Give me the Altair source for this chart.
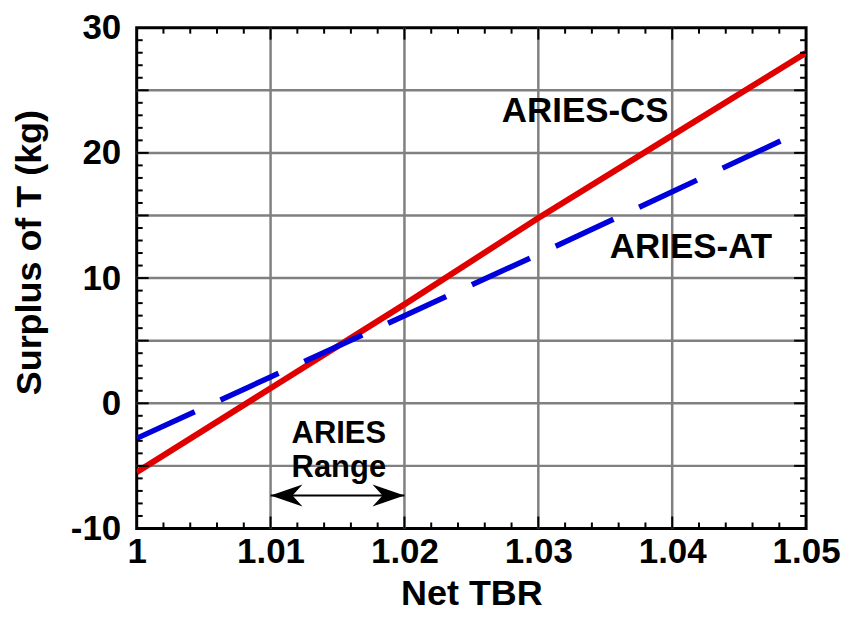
import altair as alt
import pandas as pd

# ---- data ----
tbr = [1.00, 1.01, 1.02, 1.03, 1.04, 1.05]
cs_surplus = [-5.5, 1.2, 7.9, 14.8, 21.4, 28.0]
at_surplus = [-2.8, 2.1, 7.0, 11.9, 16.9, 21.9]

x_labels = [1.00, 1.01, 1.02, 1.03, 1.04, 1.05]
y_labels = [-10, 0, 10, 20, 30]
x_grid = [1.01, 1.02, 1.03, 1.04]
y_grid = [-5, 0, 5, 10, 15, 20, 25]
x_minor = [1.002, 1.004, 1.006, 1.008, 1.012, 1.014, 1.016, 1.018,
           1.022, 1.024, 1.026, 1.028, 1.032, 1.034, 1.036, 1.038,
           1.042, 1.044, 1.046, 1.048]
y_minor = [-9, -8, -7, -6, -4, -3, -2, -1, 1, 2, 3, 4, 6, 7, 8, 9,
           11, 12, 13, 14, 16, 17, 18, 19, 21, 22, 23, 24, 26, 27, 28, 29]

label_text = ["ARIES-CS", "ARIES-AT"]
label_x = [1.0335, 1.0414]
label_y = [22.43, 11.59]
range_text = ["ARIES", "Range"]
range_x = [1.0151, 1.0151]
range_y = [-3.15, -5.86]
range_from, range_to, range_level = 1.01, 1.02, -7.37

X_MIN, X_MAX, Y_MIN, Y_MAX = 1.0, 1.05, -10, 30
W, H = 671, 502

FONT = "Liberation Sans"
xscale = alt.Scale(domain=[X_MIN, X_MAX], nice=False, zero=False)
yscale = alt.Scale(domain=[Y_MIN, Y_MAX], nice=False, zero=False)

xaxis = alt.Axis(values=x_labels, format=".2~f", grid=False, ticks=False, tickSize=0,
                 domain=False, labelFont=FONT, labelFontWeight="bold", labelFontSize=35,
                 labelColor="black", labelPadding=6, labelFlush=False, labelOverlap=False,
                 title="Net TBR", titleFont=FONT, titleFontWeight="bold", titleFontSize=36,
                 titleColor="black", titleBaseline="alphabetic", titleY=76)
yaxis = alt.Axis(values=y_labels, grid=False, ticks=False, tickSize=0,
                 labelExpr="datum.value < 0 ? '-' + format(-datum.value, 'd') : format(datum.value, 'd')",
                 domain=False, labelFont=FONT, labelFontWeight="bold", labelFontSize=35,
                 labelColor="black", labelPadding=16, labelFlush=False, labelOverlap=False,
                 title="Surplus of T (kg)", titleFont=FONT, titleFontWeight="bold",
                 titleFontSize=36, titleColor="black", titleBaseline="alphabetic",
                 titleAngle=-90, titleX=-96, titleY=225, titleAlign="center")


def X(f):
    return alt.X(f, type="quantitative", scale=xscale, axis=xaxis)


def Y(f):
    return alt.Y(f, type="quantitative", scale=yscale, axis=yaxis)


# tick lengths in data units (6 px minor, 12 px major)
ty_min = 6 * (Y_MAX - Y_MIN) / H
tx_min = 6 * (X_MAX - X_MIN) / W

grid_v = alt.Chart(pd.DataFrame({"x": x_grid})).mark_rule(
    color="#808080", strokeWidth=2.5).encode(x=X("x"))
grid_h = alt.Chart(pd.DataFrame({"y": y_grid})).mark_rule(
    color="#808080", strokeWidth=2.5).encode(y=Y("y"))

rows_x = []
for v in x_minor:
    rows_x.append({"x": v, "y0": Y_MIN, "y1": Y_MIN + ty_min})
    rows_x.append({"x": v, "y0": Y_MAX, "y1": Y_MAX - ty_min})
for v in x_grid:
    rows_x.append({"x": v, "y0": Y_MIN, "y1": Y_MIN + 2 * ty_min})
    rows_x.append({"x": v, "y0": Y_MAX, "y1": Y_MAX - 2 * ty_min})
rows_y = []
for v in y_minor:
    rows_y.append({"y": v, "x0": X_MIN, "x1": X_MIN + tx_min})
    rows_y.append({"y": v, "x0": X_MAX, "x1": X_MAX - tx_min})
for v in y_grid:
    rows_y.append({"y": v, "x0": X_MIN, "x1": X_MIN + 2 * tx_min})
    rows_y.append({"y": v, "x0": X_MAX, "x1": X_MAX - 2 * tx_min})

ticks_x = alt.Chart(pd.DataFrame(rows_x)).mark_rule(color="black", strokeWidth=2).encode(
    x=X("x"), y=Y("y0"), y2="y1")
ticks_y = alt.Chart(pd.DataFrame(rows_y)).mark_rule(color="black", strokeWidth=2).encode(
    y=Y("y"), x=X("x0"), x2="x1")

df_lines = pd.DataFrame({"tbr": tbr, "cs": cs_surplus, "at": at_surplus})
red = alt.Chart(df_lines).mark_line(color="#E00000", strokeWidth=6, clip=True).encode(
    x=X("tbr"), y=Y("cs"))
blue = alt.Chart(df_lines).mark_line(color="#0000DD", strokeWidth=5.5, strokeDash=[64, 28.4],
                                     clip=True).encode(x=X("tbr"), y=Y("at"))

labels = alt.Chart(pd.DataFrame({"t": label_text, "x": label_x, "y": label_y})).mark_text(
    font=FONT, fontWeight="bold", fontSize=35, color="black", align="center",
    baseline="alphabetic").encode(x=X("x"), y=Y("y"), text="t:N")
range_lbl = alt.Chart(pd.DataFrame({"t": range_text, "x": range_x, "y": range_y})).mark_text(
    font=FONT, fontWeight="bold", fontSize=31, color="black", align="center",
    baseline="alphabetic").encode(x=X("x"), y=Y("y"), text="t:N")

shaft = alt.Chart(pd.DataFrame({"a": [range_from], "b": [range_to], "y": [range_level]})).mark_rule(
    color="black", strokeWidth=2).encode(x=X("a"), x2="b", y=Y("y"))
head_path = "M0,0 L-4.27,-1.47 L-2.93,0 L-4.27,1.47 Z"
heads = alt.Chart(pd.DataFrame({"x": [range_to, range_from], "y": [range_level, range_level],
                                "ang": [0, 180]})).mark_point(
    shape=head_path, filled=True, size=225, color="black", opacity=1, strokeWidth=0).encode(
    x=X("x"), y=Y("y"), angle=alt.Angle("ang:Q", scale=None))

chart = alt.layer(grid_v, grid_h, red, blue, ticks_x, ticks_y, labels, range_lbl, shaft, heads).properties(
    width=W, height=H,
    autosize=alt.AutoSizeParams(type="none"),
    padding={"left": 129, "top": 19, "right": 35, "bottom": 84},
    background="white",
).configure_view(stroke="black", strokeWidth=3)

chart.save("out.html", embed_options={"renderer": "svg", "actions": False})
